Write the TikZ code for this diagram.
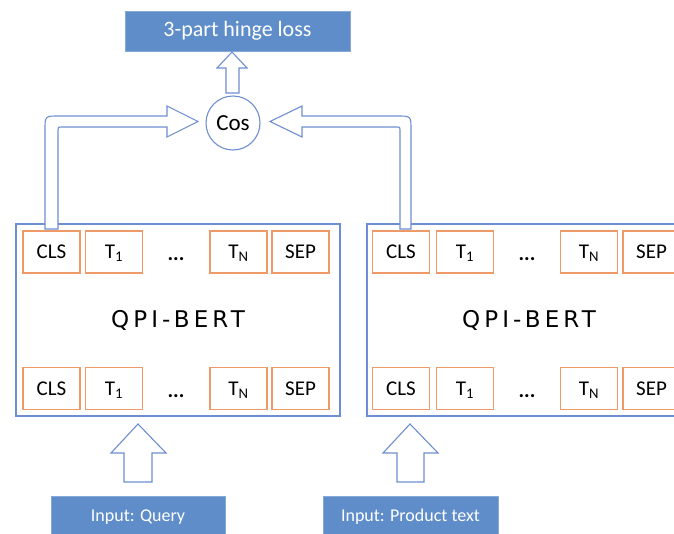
\documentclass[tikz,border=0pt]{standalone}
\usepackage{fontspec}
\setmainfont{Carlito}
\newfontfamily\qpifont[LetterSpace=18]{DejaVu Sans}
\definecolor{qblue}{HTML}{5E8DC9}
\definecolor{qline}{HTML}{6E8ED2}
\definecolor{qorange}{HTML}{EE9A68}
\begin{document}
\begin{tikzpicture}[x=1pt,y=-1pt,
  bluebox/.style={fill=qblue, draw=qblue!75!white, line width=0.8pt, text=white, inner sep=0pt,
    font=\fontsize{18}{21}\selectfont},
  tok/.style={draw=qorange, line width=1.1pt, minimum width=57pt, minimum height=42pt, inner sep=0pt,
    text height=13.5pt, text depth=0pt, font=\fontsize{21}{24}\selectfont},
  dotsnode/.style={inner sep=0pt, text height=13.5pt, text depth=0pt, font=\fontsize{21}{24}\selectfont\bfseries},
  bert/.style={draw=qline, line width=1.1pt, minimum width=324pt, minimum height=192pt, inner sep=0pt,
    font=\qpifont\fontsize{23}{26}\selectfont},
  hollow/.style={draw=qline, fill=white, line width=1.1pt, line join=miter}]
\useasboundingbox (0,0) rectangle (674,533);
\clip (0,0) rectangle (674,533);

% BERT boxes
\node[bert] (lbert) at (178,320) {QPI-BERT};
\node[bert] (rbert) at (529,320) {QPI-BERT};

% tokens left
\node[tok] (lcls1) at (51.5,252) {CLS};
\node[tok] (lt11) at (114,252) {T\textsubscript{1}};
\node[dotsnode] (ldots1) at (176,254) {...};
\node[tok] (ltn1) at (238.5,252) {T\textsubscript{N}};
\node[tok] (lsep1) at (300.5,252) {SEP};
\node[tok] (lcls2) at (51.5,388.5) {CLS};
\node[tok] (lt12) at (114,388.5) {T\textsubscript{1}};
\node[dotsnode] (ldots2) at (176,390.5) {...};
\node[tok] (ltn2) at (238.5,388.5) {T\textsubscript{N}};
\node[tok] (lsep2) at (300.5,388.5) {SEP};

% tokens right
\node[tok] (rcls1) at (401,252) {CLS};
\node[tok] (rt11) at (465,252) {T\textsubscript{1}};
\node[dotsnode] (rdots1) at (527,254) {...};
\node[tok] (rtn1) at (589,252) {T\textsubscript{N}};
\node[tok] (rsep1) at (651.5,252) {SEP};
\node[tok] (rcls2) at (401,388.5) {CLS};
\node[tok] (rt12) at (465,388.5) {T\textsubscript{1}};
\node[dotsnode] (rdots2) at (527,390.5) {...};
\node[tok] (rtn2) at (589,388.5) {T\textsubscript{N}};
\node[tok] (rsep2) at (651.5,388.5) {SEP};

% top
\node[bluebox, minimum width=225pt, minimum height=40pt, font=\fontsize{22}{25}\selectfont] (loss) at (237.5,31) {3-part hinge loss};
\node[circle, draw=qline, line width=1.1pt, minimum size=54pt, inner sep=0pt, font=\fontsize{23}{26}\selectfont] (cos) at (233,123) {Cos};

% inputs
\node[bluebox, minimum width=174pt, minimum height=42pt] (qin) at (138,517) {Input: Query};
\node[bluebox, minimum width=175pt, minimum height=42pt] (pin) at (410.5,517) {Input: Product text};

% hollow arrows
\draw[hollow] (45,229) -- (45,130) .. controls (45,116) .. (59,116) -- (167,116) -- (167,106)
  -- (198,121.5) -- (167,137) -- (167,127) -- (61,127) .. controls (58,127) .. (58,130) -- (58,229) -- cycle;
\draw[hollow] (411,229) -- (411,130) .. controls (411,116) .. (397,116) -- (302,116) -- (302,106)
  -- (270,121.5) -- (302,137) -- (302,127) -- (397,127) .. controls (400,127) .. (400,130) -- (400,229) -- cycle;
\draw[hollow] (226,93) -- (226,68) -- (217,68) -- (232,52) -- (247,68) -- (239,68) -- (239,93) -- cycle;
\draw[hollow] (124,482) -- (124,453) -- (111,453) -- (138,424) -- (166,453) -- (152,453) -- (152,482) -- cycle;
\draw[hollow] (397,482) -- (397,453) -- (383,453) -- (410,424) -- (438,453) -- (424,453) -- (424,482) -- cycle;
\end{tikzpicture}
\end{document}
